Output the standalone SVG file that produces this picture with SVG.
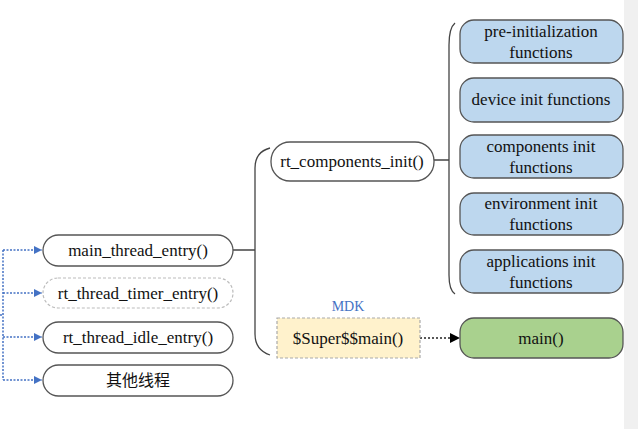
<svg xmlns="http://www.w3.org/2000/svg" width="638" height="429" viewBox="0 0 638 429">
<style>
.n{fill:#fff;stroke:#555;stroke-width:1.3}
.b{fill:#bdd7ee;stroke:#555;stroke-width:1.3}
.g{fill:#a9d18e;stroke:#555;stroke-width:1.3}
.t{font-family:'Liberation Serif','Times New Roman',serif;font-size:17px;fill:#111;text-anchor:middle}
.c{font-family:'Noto Sans CJK SC',sans-serif;font-size:16px;fill:#111;text-anchor:middle}
.br{fill:none;stroke:#444;stroke-width:1.3}
.bl{fill:none;stroke:#4472c4;stroke-width:1.5;stroke-dasharray:2 1.5}
</style>
<defs>
<marker id="ab" viewBox="0 0 10 10" refX="10" refY="5" markerWidth="8" markerHeight="8" markerUnits="userSpaceOnUse" orient="auto"><path d="M0,0L10,5L0,10z" fill="#4472c4"/></marker>
<marker id="ak" viewBox="0 0 10 10" refX="10" refY="5" markerWidth="10" markerHeight="10" markerUnits="userSpaceOnUse" orient="auto"><path d="M0,0L10,5L0,10z" fill="#000"/></marker>
</defs>
<rect x="0" y="0" width="638" height="429" fill="#fff"/>
<rect x="624" y="0" width="14" height="429" fill="#f0f0f0"/>
<g id="connectors">
<path class="bl" d="M3,250V380M0,315H3"/>
<path class="bl" d="M3,250H42" marker-end="url(#ab)"/>
<path class="bl" d="M3,293H42" marker-end="url(#ab)"/>
<path class="bl" d="M3,337H42" marker-end="url(#ab)"/>
<path class="bl" d="M3,380H42" marker-end="url(#ab)"/>
<path class="br" d="M233,250H255M270,148Q255,152 255,168V334Q255,350 270,355"/>
<path class="br" d="M434,160H449M455,23Q449,28 449,45V275Q449,290 455,294"/>
<path fill="none" stroke="#222" stroke-width="1.5" stroke-dasharray="2 2" d="M420,338H460" marker-end="url(#ak)"/>
</g>
<g id="main_thread_entry"><rect class="n" x="43" y="235" width="190" height="31" rx="15.5"/><text class="t" x="138" y="256">main_thread_entry()</text></g>
<g id="rt_thread_timer_entry"><rect x="43" y="278" width="190" height="30" rx="15" fill="#fff" stroke="#bbb" stroke-width="1.2" stroke-dasharray="3 2"/><text class="t" x="138" y="299">rt_thread_timer_entry()</text></g>
<g id="rt_thread_idle_entry"><rect class="n" x="43" y="322" width="190" height="31" rx="15.5"/><text class="t" x="138" y="343">rt_thread_idle_entry()</text></g>
<g id="other_threads"><rect class="n" x="43" y="365" width="190" height="31" rx="15.5"/><text class="c" x="138" y="386">其他线程</text></g>
<g id="rt_components_init"><rect class="n" x="271" y="142" width="163" height="39" rx="19"/><text class="t" x="352" y="167">rt_components_init()</text></g>
<g id="super_main"><text x="348" y="311" font-family="'Liberation Serif',serif" font-size="14" fill="#4472c4" text-anchor="middle">MDK</text><rect x="277" y="318" width="143" height="40" fill="#fff2cc" stroke="#aaa" stroke-width="1.2" stroke-dasharray="3 2"/><text class="t" x="348" y="344">$Super$$main()</text></g>
<g id="pre_init"><rect class="b" x="460" y="20" width="163" height="43" rx="14"/><text class="t" x="541" y="37">pre-initialization</text><text class="t" x="541" y="58">functions</text></g>
<g id="device_init"><rect class="b" x="460" y="78" width="163" height="44" rx="14"/><text class="t" x="541" y="105">device init functions</text></g>
<g id="components_init"><rect class="b" x="460" y="135" width="163" height="43" rx="14"/><text class="t" x="541" y="152">components init</text><text class="t" x="541" y="173">functions</text></g>
<g id="environment_init"><rect class="b" x="460" y="193" width="163" height="42" rx="14"/><text class="t" x="541" y="209">environment init</text><text class="t" x="541" y="230">functions</text></g>
<g id="applications_init"><rect class="b" x="460" y="250" width="163" height="43" rx="14"/><text class="t" x="541" y="267">applications init</text><text class="t" x="541" y="288">functions</text></g>
<g id="main"><rect class="g" x="460" y="318" width="163" height="40" rx="14"/><text class="t" x="541" y="344">main()</text></g>
</svg>
